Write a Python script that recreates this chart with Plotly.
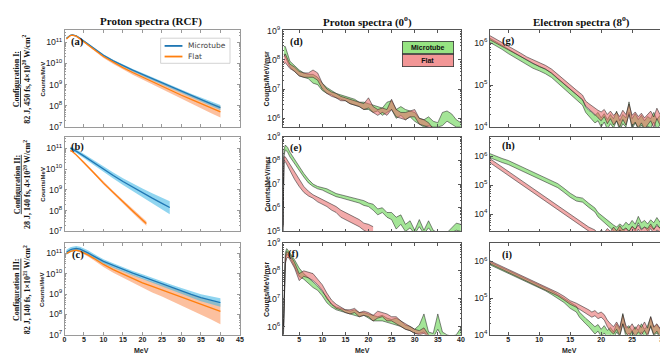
import plotly.graph_objects as go

# ---------------- data (log10 of the plotted values) ----------------
# Column 1: proton spectra from RCF (centre line + uncertainty band)
x_rcf = [0.5, 1, 1.5, 2, 3, 4, 5, 6, 7.5, 10, 12.5, 15, 17.5, 20, 22.5, 25, 27.5, 30, 32.5, 35, 37.5, 40]
a_micro_mid = [11.18, 11.27, 11.32, 11.34, 11.30, 11.18, 11.05, 10.92, 10.72, 10.38, 10.12, 9.89, 9.68, 9.48, 9.28, 9.08, 8.88, 8.68, 8.48, 8.29, 8.10, 7.92]
a_micro_lo = [11.15, 11.24, 11.29, 11.31, 11.27, 11.15, 11.02, 10.88, 10.68, 10.33, 10.07, 9.83, 9.62, 9.41, 9.21, 9.00, 8.80, 8.59, 8.39, 8.19, 7.99, 7.80]
a_micro_hi = [11.21, 11.30, 11.35, 11.37, 11.33, 11.21, 11.08, 10.96, 10.76, 10.43, 10.17, 9.95, 9.74, 9.55, 9.35, 9.16, 8.96, 8.77, 8.57, 8.39, 8.21, 8.04]
a_flat_mid = [11.15, 11.25, 11.31, 11.33, 11.28, 11.15, 11.02, 10.88, 10.67, 10.32, 10.05, 9.80, 9.57, 9.35, 9.13, 8.92, 8.71, 8.50, 8.30, 8.10, 7.90, 7.72]
a_flat_lo = [11.12, 11.22, 11.28, 11.30, 11.24, 11.11, 10.97, 10.83, 10.61, 10.25, 9.97, 9.71, 9.47, 9.24, 9.01, 8.78, 8.56, 8.33, 8.11, 7.89, 7.66, 7.45]
a_flat_hi = [11.18, 11.28, 11.34, 11.36, 11.32, 11.19, 11.07, 10.93, 10.73, 10.39, 10.13, 9.89, 9.67, 9.46, 9.25, 9.06, 8.86, 8.67, 8.49, 8.31, 8.14, 7.99]

x_b_micro = [1.5, 2, 3, 5, 7.5, 10, 12.5, 15, 17.5, 20, 22.5, 25, 27]
b_micro_mid = [11.00, 10.96, 10.86, 10.62, 10.30, 9.98, 9.69, 9.40, 9.12, 8.85, 8.60, 8.35, 8.15]
b_micro_lo = [10.92, 10.88, 10.77, 10.52, 10.18, 9.85, 9.54, 9.23, 8.93, 8.63, 8.35, 8.07, 7.83]
b_micro_hi = [11.08, 11.04, 10.95, 10.72, 10.42, 10.11, 9.83, 9.56, 9.30, 9.06, 8.84, 8.62, 8.45]
x_b_flat = [1.5, 2, 3, 5, 7.5, 10, 12.5, 15, 17.5, 20, 21]
b_flat_mid = [10.88, 10.84, 10.68, 10.32, 9.82, 9.32, 8.86, 8.42, 7.98, 7.55, 7.38]
b_flat_lo = [10.84, 10.80, 10.64, 10.27, 9.76, 9.25, 8.78, 8.33, 7.88, 7.44, 7.27]
b_flat_hi = [10.92, 10.88, 10.72, 10.37, 9.88, 9.39, 8.94, 8.51, 8.08, 7.66, 7.49]

c_micro_mid = [11.05, 11.12, 11.17, 11.20, 11.23, 11.20, 11.12, 11.02, 10.86, 10.60, 10.40, 10.20, 10.02, 9.85, 9.67, 9.50, 9.32, 9.15, 8.98, 8.82, 8.70, 8.58]
c_micro_lo = [10.93, 11.00, 11.05, 11.08, 11.11, 11.08, 11.00, 10.90, 10.75, 10.49, 10.29, 10.09, 9.91, 9.73, 9.55, 9.37, 9.18, 9.00, 8.82, 8.65, 8.51, 8.37]
c_micro_hi = [11.17, 11.24, 11.29, 11.32, 11.35, 11.32, 11.24, 11.14, 10.97, 10.71, 10.51, 10.31, 10.13, 9.97, 9.79, 9.63, 9.46, 9.30, 9.14, 8.99, 8.89, 8.79]
c_flat_mid = [10.98, 11.05, 11.09, 11.12, 11.15, 11.10, 11.02, 10.92, 10.75, 10.45, 10.20, 9.98, 9.76, 9.55, 9.37, 9.20, 9.02, 8.85, 8.67, 8.50, 8.32, 8.15]
c_flat_lo = [10.94, 11.01, 11.05, 11.08, 11.10, 11.04, 10.95, 10.84, 10.65, 10.32, 10.04, 9.79, 9.54, 9.30, 9.08, 8.88, 8.66, 8.45, 8.22, 8.00, 7.76, 7.52]
c_flat_hi = [11.02, 11.09, 11.13, 11.16, 11.20, 11.16, 11.09, 11.00, 10.85, 10.57, 10.34, 10.14, 9.95, 9.77, 9.61, 9.46, 9.30, 9.15, 9.00, 8.85, 8.68, 8.52]

# Column 2: proton spectra at 0 deg (bands)
x_d_green = [1.7, 2, 3, 4, 5, 6, 7, 8, 9, 10, 11, 12, 13, 14, 15, 16, 17, 18, 19, 20, 21, 22, 23, 24, 25, 26, 27, 28, 29, 30, 31, 32, 33, 34, 35, 36, 37, 38, 39, 40]
d_green_lo = [8.20, 8.10, 7.75, 7.60, 7.45, 7.40, 7.35, 7.20, 7.15, 6.95, 6.85, 6.80, 6.70, 6.65, 6.60, 6.50, 6.45, 6.40, 6.30, 6.30, 6.20, 6.25, 6.10, 6.20, 6.30, 6.00, 6.10, 5.95, 6.05, 5.90, 5.80, 5.70, 5.75, 5.70, 5.70, 5.75, 5.90, 5.80, 5.70, 5.70]
d_green_hi = [8.45, 8.45, 7.95, 7.80, 7.65, 7.55, 7.50, 7.50, 7.40, 7.20, 7.05, 6.95, 6.85, 6.80, 6.75, 6.70, 6.65, 6.55, 6.55, 6.50, 6.45, 6.40, 6.35, 6.55, 6.60, 6.30, 6.40, 6.30, 6.25, 6.20, 6.00, 5.95, 6.05, 5.90, 5.85, 6.20, 6.25, 6.15, 5.95, 5.85]
x_d_red = [1.7, 2, 3, 4, 5, 6, 7, 8, 9, 10, 11, 12, 13, 14, 15, 16, 17, 18, 19, 20, 21, 22, 23, 24, 25, 26, 27, 28, 29, 30, 31, 32, 33, 34]
d_red_lo = [7.85, 7.90, 7.70, 7.60, 7.45, 7.40, 7.40, 7.40, 7.30, 7.00, 6.85, 6.75, 6.70, 6.60, 6.60, 6.50, 6.45, 6.40, 6.30, 6.35, 6.20, 6.10, 6.20, 6.10, 6.30, 6.05, 6.00, 5.95, 6.05, 6.05, 5.80, 5.75, 5.70, 5.55]
d_red_hi = [8.10, 8.20, 7.85, 7.75, 7.60, 7.55, 7.55, 7.65, 7.55, 7.20, 7.00, 6.90, 6.85, 6.75, 6.70, 6.65, 6.60, 6.55, 6.50, 6.70, 6.40, 6.30, 6.35, 6.30, 6.65, 6.30, 6.20, 6.20, 6.25, 6.30, 6.00, 5.95, 5.85, 5.65]

x_e_green = [1.5, 1.7, 2, 2.5, 3, 4, 5, 6, 7, 8, 9, 10, 11, 12, 13, 14, 15, 16, 17, 18, 19, 20, 21, 22, 23, 24, 25, 26, 27, 28, 29, 30, 31, 32, 33, 34, 35, 36, 37, 38, 39, 40]
e_green_lo = [5.00, 8.20, 8.45, 8.35, 8.15, 7.85, 7.55, 7.30, 7.05, 6.90, 6.80, 6.75, 6.65, 6.55, 6.47, 6.42, 6.37, 6.32, 6.27, 6.20, 6.10, 6.05, 5.90, 5.70, 5.80, 5.60, 5.50, 5.10, 5.30, 5.00, 5.15, 4.90, 5.20, 4.90, 5.15, 4.90, 4.90, 4.90, 4.90, 4.95, 5.05, 5.00]
e_green_hi = [5.20, 8.45, 8.65, 8.55, 8.35, 8.05, 7.70, 7.45, 7.20, 7.00, 6.90, 6.85, 6.80, 6.70, 6.60, 6.55, 6.50, 6.45, 6.40, 6.35, 6.30, 6.20, 6.15, 5.95, 6.00, 5.80, 5.80, 5.60, 5.70, 5.30, 5.45, 5.05, 5.50, 5.05, 5.45, 5.05, 4.95, 4.95, 4.95, 5.15, 5.35, 5.30]
x_e_red = [1.5, 1.7, 2, 2.5, 3, 4, 5, 6, 7, 8, 9, 10, 11, 12, 13, 14, 15, 16, 17, 18, 19, 20, 21]
e_red_lo = [5.00, 7.90, 7.95, 7.75, 7.55, 7.20, 6.90, 6.65, 6.50, 6.40, 6.25, 6.15, 6.05, 5.90, 5.80, 5.60, 5.50, 5.40, 5.30, 5.20, 5.05, 4.95, 4.85]
e_red_hi = [5.30, 8.15, 8.15, 8.00, 7.85, 7.55, 7.20, 6.90, 6.70, 6.55, 6.45, 6.35, 6.25, 6.15, 6.05, 5.90, 5.80, 5.70, 5.60, 5.50, 5.35, 5.30, 5.20]

x_f_green = [1.6, 2, 2.3, 2.6, 3, 4, 5, 6, 7, 8, 9, 10, 11, 12, 13, 14, 15, 16, 17, 18, 19, 20, 21, 22, 23, 24, 25, 26, 27, 28, 29, 30, 31, 32, 33, 34, 35, 36, 37, 38, 39, 40]
f_green_lo = [5.70, 8.30, 8.60, 8.55, 8.50, 8.15, 7.80, 7.70, 7.55, 7.40, 7.30, 7.10, 6.85, 6.70, 6.60, 6.55, 6.50, 6.45, 6.40, 6.35, 6.40, 6.30, 6.20, 6.20, 6.20, 6.15, 6.10, 6.05, 6.00, 5.90, 5.85, 5.75, 5.75, 5.80, 5.65, 5.60, 5.90, 5.60, 5.55, 5.55, 5.55, 5.70]
f_green_hi = [6.00, 8.65, 8.80, 8.75, 8.65, 8.40, 8.10, 7.90, 7.75, 7.60, 7.45, 7.25, 7.05, 6.80, 6.70, 6.65, 6.60, 6.55, 6.60, 6.50, 6.50, 6.45, 6.40, 6.35, 6.40, 6.30, 6.25, 6.30, 6.20, 6.05, 6.00, 5.90, 6.05, 6.45, 5.80, 5.75, 6.45, 5.80, 5.70, 5.65, 5.70, 5.95]
x_f_red = [1.6, 2, 2.3, 2.6, 3, 4, 5, 6, 7, 8, 9, 10, 11, 12, 13, 14, 15, 16, 17, 18, 19, 20, 21, 22, 23, 24, 25, 26, 27, 28, 29, 30, 31, 32, 33]
f_red_lo = [5.70, 8.25, 8.45, 8.50, 8.40, 8.10, 7.65, 7.80, 7.75, 7.65, 7.50, 7.30, 7.00, 6.80, 6.65, 6.60, 6.50, 6.45, 6.50, 6.35, 6.40, 6.35, 6.20, 6.30, 6.35, 6.20, 6.20, 6.10, 6.00, 5.90, 5.85, 5.75, 5.70, 5.75, 5.60]
f_red_hi = [5.90, 8.50, 8.70, 8.65, 8.60, 8.30, 7.90, 8.00, 7.95, 7.90, 7.70, 7.50, 7.20, 6.95, 6.80, 6.70, 6.60, 6.60, 6.65, 6.50, 6.55, 6.50, 6.40, 6.55, 6.50, 6.45, 6.35, 6.35, 6.20, 6.10, 6.00, 5.90, 5.85, 5.95, 5.70]

# Column 3: electron spectra at 8 deg (bands)
x_g = [2, 3, 4, 5, 6, 7, 8, 9, 10, 11, 12, 13, 14, 15, 16, 17, 17.5, 18, 18.5, 19, 19.5, 20, 20.5, 21, 21.5, 22, 22.5, 23, 23.5, 24, 24.5, 25, 25.5, 26, 26.5, 27, 27.5, 28, 28.5, 29, 29.5, 30]
g_red_hi = [6.18, 6.10, 6.02, 5.93, 5.85, 5.76, 5.67, 5.60, 5.53, 5.47, 5.38, 5.25, 5.12, 5.00, 4.88, 4.76, 4.62, 4.56, 4.50, 4.45, 4.40, 4.36, 4.42, 4.30, 4.38, 4.28, 4.35, 4.25, 4.40, 4.30, 4.55, 4.28, 4.36, 4.25, 4.33, 4.22, 4.30, 4.38, 4.24, 4.45, 4.30, 4.36]
g_red_lo = [6.08, 6.00, 5.92, 5.83, 5.75, 5.66, 5.58, 5.50, 5.44, 5.38, 5.28, 5.15, 5.02, 4.90, 4.78, 4.65, 4.50, 4.44, 4.36, 4.30, 4.22, 4.15, 4.25, 4.08, 4.20, 4.05, 4.15, 4.00, 4.18, 4.05, 4.30, 4.02, 4.12, 3.98, 4.10, 3.95, 4.05, 4.15, 3.98, 4.20, 4.05, 4.12]
g_green_hi = [6.12, 6.04, 5.95, 5.86, 5.77, 5.68, 5.59, 5.51, 5.45, 5.38, 5.29, 5.16, 5.03, 4.90, 4.78, 4.65, 4.48, 4.40, 4.35, 4.28, 4.35, 4.22, 4.32, 4.18, 4.30, 4.20, 4.38, 4.15, 4.30, 4.22, 4.60, 4.20, 4.32, 4.18, 4.28, 4.15, 4.25, 4.20, 4.35, 4.18, 4.28, 4.22]
g_green_lo = [6.02, 5.94, 5.85, 5.75, 5.66, 5.57, 5.48, 5.40, 5.34, 5.27, 5.18, 5.05, 4.92, 4.78, 4.65, 4.52, 4.35, 4.25, 4.18, 4.10, 4.15, 4.00, 4.12, 3.95, 4.08, 3.98, 4.15, 3.92, 4.08, 4.00, 4.35, 3.95, 4.10, 3.95, 4.05, 3.90, 4.02, 3.98, 4.12, 3.95, 4.05, 4.00]

x_h = [2, 3, 4, 5, 6, 7, 8, 9, 10, 11, 12, 13, 14, 15, 16, 17, 18, 19, 19.5, 20, 20.5, 21, 21.5, 22, 22.5, 23, 23.5, 24, 24.5, 25, 25.5, 26, 26.5, 27, 27.5, 28, 28.5, 29, 29.5, 30]
h_green_hi = [6.09, 6.00, 5.92, 5.85, 5.75, 5.65, 5.55, 5.46, 5.37, 5.26, 5.16, 5.05, 4.89, 4.72, 4.59, 4.55, 4.37, 4.21, 4.05, 3.96, 3.88, 3.80, 3.70, 3.62, 3.55, 3.66, 3.58, 3.72, 3.62, 3.78, 3.65, 3.92, 3.70, 3.78, 3.66, 3.80, 3.70, 3.88, 3.72, 3.90]
h_green_lo = [5.95, 5.86, 5.78, 5.71, 5.61, 5.51, 5.41, 5.32, 5.23, 5.12, 5.02, 4.91, 4.75, 4.58, 4.45, 4.41, 4.23, 4.07, 3.90, 3.80, 3.70, 3.60, 3.50, 3.42, 3.35, 3.45, 3.38, 3.50, 3.40, 3.55, 3.42, 3.70, 3.48, 3.55, 3.42, 3.58, 3.45, 3.65, 3.50, 3.68]
h_red_hi = [5.92, 5.77, 5.62, 5.47, 5.32, 5.17, 5.02, 4.87, 4.72, 4.57, 4.42, 4.27, 4.12, 3.97, 3.82, 3.67, 3.55, 3.45, 3.32, 3.45, 3.36, 3.50, 3.40, 3.55, 3.42, 3.60, 3.45, 3.52, 3.40, 3.58, 3.48, 3.62, 3.45, 3.55, 3.50, 3.66, 3.48, 3.60, 3.52, 3.64]
h_red_lo = [5.78, 5.63, 5.48, 5.33, 5.18, 5.03, 4.88, 4.73, 4.58, 4.43, 4.28, 4.13, 3.98, 3.83, 3.68, 3.53, 3.41, 3.31, 3.20, 3.30, 3.22, 3.35, 3.25, 3.40, 3.28, 3.45, 3.30, 3.38, 3.25, 3.42, 3.32, 3.48, 3.30, 3.40, 3.35, 3.50, 3.32, 3.45, 3.38, 3.48]

x_i = [2, 3, 4, 5, 6, 7, 8, 9, 10, 11, 12, 13, 14, 15, 16, 16.5, 17, 17.5, 18, 18.5, 19, 19.5, 20, 20.5, 21, 21.5, 22, 22.5, 23, 23.5, 24, 24.5, 25, 25.5, 26, 26.5, 27, 27.5, 28, 28.5, 29, 29.5, 30]
i_red_hi = [6.02, 5.94, 5.87, 5.80, 5.72, 5.64, 5.56, 5.48, 5.40, 5.32, 5.24, 5.15, 5.05, 4.93, 4.86, 4.82, 4.78, 4.72, 4.68, 4.62, 4.66, 4.58, 4.62, 4.55, 4.40, 4.30, 4.22, 4.35, 4.20, 4.55, 4.25, 4.18, 4.30, 4.15, 4.28, 4.20, 4.35, 4.18, 4.50, 4.22, 4.30, 4.18, 4.32]
i_red_lo = [5.94, 5.86, 5.79, 5.72, 5.64, 5.56, 5.48, 5.40, 5.32, 5.24, 5.15, 5.06, 4.95, 4.83, 4.75, 4.70, 4.65, 4.58, 4.55, 4.48, 4.52, 4.44, 4.48, 4.40, 4.22, 4.10, 4.02, 4.15, 3.98, 4.30, 4.05, 3.95, 4.10, 3.95, 4.08, 4.00, 4.12, 3.96, 4.25, 4.00, 4.10, 3.95, 4.10]
i_green_hi = [5.99, 5.91, 5.84, 5.77, 5.69, 5.61, 5.53, 5.45, 5.37, 5.29, 5.20, 5.10, 5.00, 4.88, 4.78, 4.62, 4.52, 4.45, 4.38, 4.30, 4.22, 4.28, 4.15, 4.25, 4.12, 4.20, 4.08, 4.30, 4.15, 4.58, 4.18, 4.25, 4.10, 4.22, 4.12, 4.30, 4.15, 4.25, 4.48, 4.20, 4.28, 4.15, 4.30]
i_green_lo = [5.91, 5.83, 5.76, 5.69, 5.61, 5.53, 5.45, 5.37, 5.29, 5.20, 5.10, 5.00, 4.88, 4.72, 4.62, 4.48, 4.38, 4.30, 4.22, 4.12, 4.02, 4.10, 3.95, 4.05, 3.92, 4.00, 3.88, 4.08, 3.95, 4.30, 3.95, 4.05, 3.90, 4.00, 3.90, 4.08, 3.95, 4.02, 4.22, 3.98, 4.05, 3.92, 4.08]

col_titles = ["Proton spectra (RCF)", "Proton spectra (0<sup>o</sup>)", "Electron spectra (8<sup>o</sup>)"]
config_names = ["Configuration I:", "Configuration II:", "Configuration III:"]
config_params = ["82 J, 450 fs, 4×10<sup>20</sup> W/cm<sup>2</sup>",
                 "28 J, 140 fs, 4×10<sup>20</sup> W/cm<sup>2</sup>",
                 "82 J, 140 fs, 1×10<sup>21</sup> W/cm<sup>2</sup>"]
panel_letters = ["(a)", "(b)", "(c)", "(d)", "(e)", "(f)", "(g)", "(h)", "(i)"]
series_names = ["Microtube", "Flat"]

# ---------------- figure ----------------
W, H = 668, 355
fig = go.Figure()

BLUE, ORANGE = "#1f77b4", "#ff7f0e"
BLUE_FILL, ORANGE_FILL = "rgba(70,185,230,0.6)", "rgba(250,150,95,0.6)"
GREEN_FILL, RED_FILL = "rgba(115,215,95,0.65)", "rgba(232,100,100,0.55)"
EDGE = "rgba(25,25,25,0.85)"


def ax(p):
    return ("x", "y") if p == 1 else (f"x{p}", f"y{p}")


def pw(vals):
    return [10 ** v for v in vals]


def add_band(p, x, lo, hi, fill, edge=None, ew=0.6):
    xa, ya = ax(p)
    line = dict(color=edge, width=ew) if edge else dict(width=0)
    fig.add_trace(go.Scatter(x=x, y=pw(lo), mode="lines", line=line, xaxis=xa, yaxis=ya,
                             showlegend=False, hoverinfo="skip"))
    fig.add_trace(go.Scatter(x=x, y=pw(hi), mode="lines", line=line, fill="tonexty", fillcolor=fill,
                             xaxis=xa, yaxis=ya, showlegend=False, hoverinfo="skip"))


def add_line(p, x, mid, color):
    xa, ya = ax(p)
    fig.add_trace(go.Scatter(x=x, y=pw(mid), mode="lines", line=dict(color=color, width=1.3),
                             showlegend=False, xaxis=xa, yaxis=ya, hoverinfo="skip"))


# column 1
add_band(1, x_rcf, a_flat_lo, a_flat_hi, ORANGE_FILL)
add_band(1, x_rcf, a_micro_lo, a_micro_hi, BLUE_FILL)
add_line(1, x_rcf, a_micro_mid, BLUE)
add_line(1, x_rcf, a_flat_mid, ORANGE)

add_band(2, x_b_flat, b_flat_lo, b_flat_hi, ORANGE_FILL)
add_band(2, x_b_micro, b_micro_lo, b_micro_hi, BLUE_FILL)
add_line(2, x_b_micro, b_micro_mid, BLUE)
add_line(2, x_b_flat, b_flat_mid, ORANGE)

add_band(3, x_rcf, c_flat_lo, c_flat_hi, ORANGE_FILL)
add_band(3, x_rcf, c_micro_lo, c_micro_hi, BLUE_FILL)
add_line(3, x_rcf, c_micro_mid, BLUE)
add_line(3, x_rcf, c_flat_mid, ORANGE)

# column 2
add_band(4, x_d_green, d_green_lo, d_green_hi, GREEN_FILL, EDGE)
add_band(4, x_d_red, d_red_lo, d_red_hi, RED_FILL, EDGE)
add_band(5, x_e_green, e_green_lo, e_green_hi, GREEN_FILL, EDGE)
add_band(5, x_e_red, e_red_lo, e_red_hi, RED_FILL, EDGE)
add_band(6, x_f_green, f_green_lo, f_green_hi, GREEN_FILL, EDGE)
add_band(6, x_f_red, f_red_lo, f_red_hi, RED_FILL, EDGE)

# column 3
add_band(7, x_g, g_green_lo, g_green_hi, GREEN_FILL, EDGE)
add_band(7, x_g, g_red_lo, g_red_hi, RED_FILL, EDGE)
add_band(8, x_h, h_green_lo, h_green_hi, GREEN_FILL, EDGE)
add_band(8, x_h, h_red_lo, h_red_hi, RED_FILL, EDGE)
add_band(9, x_i, i_green_lo, i_green_hi, GREEN_FILL, EDGE)
add_band(9, x_i, i_red_lo, i_red_hi, RED_FILL, EDGE)

# ---------------- axes ----------------
col_dom = [(55 / W, 232 / W), (275 / W, 455 / W), (484 / W, 659 / W)]
row_dom = [(1 - 116 / H, 1 - 16 / H), (1 - 224 / H, 1 - 126 / H), (1 - 331 / H, 1 - 236 / H)]
x_ranges = [[0, 45], [1.4, 40], [2, 30]]
x_ticks = [list(range(0, 50, 5)), list(range(5, 45, 5)), list(range(5, 35, 5))]
y_ranges = {1: [7, 11.55], 2: [7, 11.55], 3: [7, 11.5],
            4: [5.7, 9], 5: [5, 9], 6: [5.7, 9],
            7: [4, 6.3], 8: [3.4, 6.67], 9: [4, 6.5]}

axes = {}
for p in range(1, 10):
    c, r = (p - 1) // 3, (p - 1) % 3
    xa, ya = ax(p)
    sfx = "" if p == 1 else str(p)
    lc = "#9a9a9a" if c == 0 else "#555555"
    axes["xaxis" + sfx] = dict(
        domain=col_dom[c], anchor=ya, range=x_ranges[c], tickmode="array", tickvals=x_ticks[c],
        showticklabels=(r == 2), ticks="inside", ticklen=3, tickcolor=lc, showline=True,
        linecolor=lc, linewidth=0.8, mirror="ticks", showgrid=False, zeroline=False,
        ticklabelstandoff=-2,
        tickfont=dict(family="Liberation Sans", size=7, color="#222", weight="bold"))
    axes["yaxis" + sfx] = dict(
        domain=row_dom[r], anchor=xa, type="log", range=y_ranges[p], dtick=1,
        exponentformat="power", showexponent="all", ticks="inside", ticklen=3, tickcolor=lc,
        showline=True, linecolor=lc, linewidth=0.8, mirror="ticks", showgrid=False, zeroline=False,
        minor=dict(ticks="inside", ticklen=1.5, tickcolor=lc, showgrid=False),
        tickfont=dict(family="Liberation Sans", size=7, color="#222"))

# ---------------- annotations ----------------
ann = []


def note(text, x, y, size, family="Liberation Sans", angle=0, xanchor="center", yanchor="middle",
         color="#222", **kw):
    d = dict(text=text, x=x / W, y=1 - y / H, xref="paper", yref="paper", xanchor=xanchor,
             yanchor=yanchor, showarrow=False, textangle=angle,
             font=dict(family=family, size=size, color=color))
    d.update(kw)
    ann.append(d)


title_x = [142, 361, 577]
for c in range(3):
    note("<b>" + col_titles[c] + "</b>", title_x[c], 7, 11, "Liberation Serif", color="#111")

row_centers = [66, 175, 284]
for r in range(3):
    note("<b><u>" + config_names[r] + "</u><br>" + config_params[r] + "</b>", 12, row_centers[r], 8,
         "Liberation Serif", angle=-90, color="#111")
    note("<b>Counts/MeV</b>", 33, row_centers[r], 6, angle=-90)
    note("<b>Counts/MeV/msr</b>", 259, row_centers[r], 7, angle=-90)

label_pos = [(60, 28), (60, 137), (61, 248), (281, 28), (281, 138), (279, 247), (494, 27), (494, 136), (494, 248)]
for k, (lx, ly) in enumerate(label_pos):
    note("<b>" + panel_letters[k] + "</b>", lx, ly, 10.5, "Liberation Serif", xanchor="left", color="#111")

mev_x = [133, 356, 565]
for c in range(3):
    note("<b>MeV</b>", mev_x[c], 352, 7, yanchor="bottom", borderpad=0)

# (d) legend boxes
note("<b>" + series_names[0] + "</b>", 421.5, 33.5, 7, color="#111", bgcolor="rgb(150,228,130)",
     bordercolor="#333", borderwidth=0.8, width=48, height=9)
note("<b>" + series_names[1] + "</b>", 421.5, 47.5, 7, color="#111", bgcolor="rgb(242,150,150)",
     bordercolor="#333", borderwidth=0.8, width=48, height=9)

# (a) legend: box, line samples and labels
shapes = [
    dict(type="rect", xref="paper", yref="paper", x0=152 / W, x1=222 / W, y0=1 - 50 / H, y1=1 - 24 / H,
         line=dict(color="#c8c8c8", width=0.8), fillcolor="white", layer="above"),
    dict(type="line", xref="paper", yref="paper", x0=156 / W, x1=174 / W, y0=1 - 32 / H, y1=1 - 32 / H,
         line=dict(color=BLUE, width=1.8), layer="above"),
    dict(type="line", xref="paper", yref="paper", x0=156 / W, x1=174 / W, y0=1 - 43 / H, y1=1 - 43 / H,
         line=dict(color=ORANGE, width=1.8), layer="above"),
]
note(series_names[0], 178, 32, 7.5, "DejaVu Sans", xanchor="left", color="#444")
note(series_names[1], 178, 43, 7.5, "DejaVu Sans", xanchor="left", color="#444")

fig.update_layout(
    width=W, height=H, margin=dict(l=0, r=0, t=0, b=0), autosize=False,
    paper_bgcolor="white", plot_bgcolor="white", showlegend=False,
    annotations=ann, shapes=shapes,
    **axes,
)

fig.write_html("out.html")
